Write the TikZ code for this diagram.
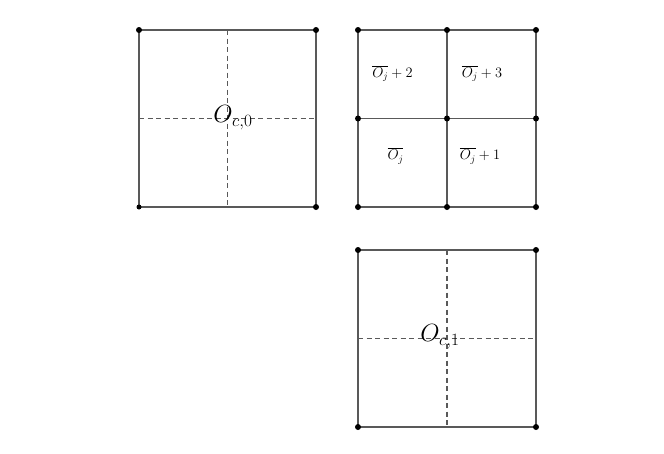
\documentclass[tikz,border=0pt]{standalone}
\begin{document}
\begin{tikzpicture}[x=1pt,y=-1pt,
  edge/.style={draw=black!65, line width=1.2pt},
  dsh/.style={draw=black!65, line width=1.1pt, dash pattern=on 5pt off 3.5pt},
  dot/.style={circle, fill=black, inner sep=0pt, minimum size=6pt},
  smalldot/.style={circle, fill=black, inner sep=0pt, minimum size=5pt},
  biglbl/.style={font=\fontsize{23.5}{28}\selectfont, inner sep=0pt},
  smalllbl/.style={font=\fontsize{14.5}{17}\selectfont, inner sep=0pt}]
\useasboundingbox (0,0) rectangle (664,453);
% left square
\coordinate (a1) at (139,30);
\coordinate (a2) at (316,30);
\coordinate (a3) at (316,207);
\coordinate (a4) at (139,207);
\coordinate (at) at (227.5,30);
\coordinate (ab) at (227.5,207);
\coordinate (al) at (139,118.5);
\coordinate (ar) at (316,118.5);
\draw[edge] (a1) -- (a2) -- (a3) -- (a4) -- cycle;
\draw[dsh] (at) -- (ab);
\draw[dsh] (al) -- (ar);
\node[dot] at (a1) {};
\node[dot] at (a2) {};
\node[dot] at (a3) {};
\node[smalldot] at (a4) {};
\node[biglbl] (lc0) at (233,118) {$O_{c,0}$};
% right top square (grid)
\coordinate (b1) at (358,30);
\coordinate (b2) at (447,30);
\coordinate (b3) at (536,30);
\coordinate (b4) at (358,118.5);
\coordinate (b5) at (447,118.5);
\coordinate (b6) at (536,118.5);
\coordinate (b7) at (358,207);
\coordinate (b8) at (447,207);
\coordinate (b9) at (536,207);
\draw[edge] (b1) -- (b3) -- (b9) -- (b7) -- cycle;
\draw[edge] (b2) -- (b8);
\draw[edge] (b4) -- (b6);
\foreach \p in {b1,b2,b3,b4,b5,b6,b7,b8,b9} \node[dot] at (\p) {};
\node[smalllbl] (l2) at (392.5,73.5) {$\overline{O_j}+2$};
\node[smalllbl] (l3) at (482,73.5) {$\overline{O_j}+3$};
\node[smalllbl] (l0) at (395.5,156) {$\overline{O_j}$};
\node[smalllbl] (l1) at (480,156) {$\overline{O_j}+1$};
% bottom square
\coordinate (c1) at (358,250);
\coordinate (c2) at (536,250);
\coordinate (c3) at (536,427);
\coordinate (c4) at (358,427);
\coordinate (ct) at (447,250);
\coordinate (cb) at (447,427);
\coordinate (cl) at (358,338.5);
\coordinate (cr) at (536,338.5);
\draw[edge] (c1) -- (c2) -- (c3) -- (c4) -- cycle;
\draw[dsh] (ct) -- (cb);
\draw[dsh] (cl) -- (cr);
\foreach \p in {c1,c2,c3,c4} \node[dot] at (\p) {};
\node[biglbl] (lc1) at (440,337) {$O_{c,1}$};
\end{tikzpicture}
\end{document}
